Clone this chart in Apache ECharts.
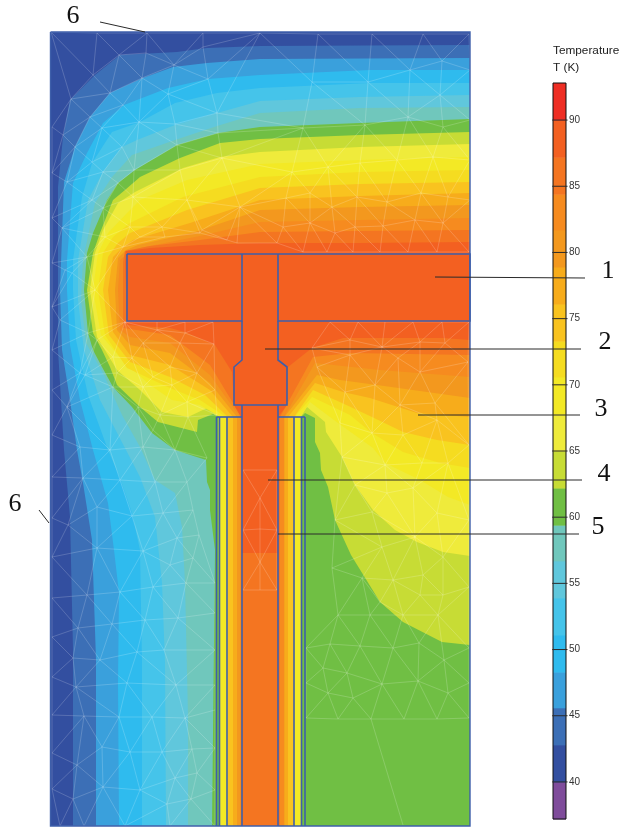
<!DOCTYPE html>
<html><head><meta charset="utf-8">
<style>html,body{margin:0;padding:0;background:#fff}#c{width:620px;height:827px}</style>
<script src="https://cdn.jsdelivr.net/npm/echarts@6/dist/echarts.min.js"></script>
</head><body><div id="c"></div>
<script>
// colour bar
const bandEdges=[37.2,40,42.8,45.6,48.3,51.1,53.9,56.7,59.4,62.2,65,67.8,70.6,73.3,76.1,78.9,81.7,84.4,87.2,90,92.8];
const bandColors=['#7F4C9B','#334FA0','#3C6FB6','#3AA0DC','#2FBBEE','#45C4EA','#60C7DC','#70C7BC','#70BF44','#C7DC35','#EFEB3B','#F3E925','#F5DC20','#F9C31F','#F7AC1B','#F3981E','#F68B1F','#F47521','#F36021','#EE2E24'];
const tickValues=[40,45,50,55,60,65,70,75,80,85,90];
// isotherms: region hotter than the level
const iso428=[[470,45],[260,46],[207,48],[177,52],[120,55],[95,75],[70,100],[63,137],[58,187],[58,290],[58,350],[64,450],[70,517],[73,650],[73,826],[470,826]];
const iso456=[[470,58],[260,59],[207,63],[173,67],[143,78],[110,93],[90,117],[75,147],[64,182],[60,290],[62,350],[70,400],[77,450],[83,483],[92,540],[96,660],[96,826],[470,826]];
const iso483=[[470,70],[370,70],[260,75],[208,79],[168,88],[124,105],[103,123],[87,153],[73,183],[67,260],[67,290],[70,345],[80,400],[93,450],[108,503],[114,550],[119,593],[118,683],[119,826],[470,826]];
const iso511=[[470,83],[370,83],[260,88],[217,93],[175,103],[140,122],[112,132],[92,163],[82,197],[73,260],[73,290],[76,340],[88,395],[108,450],[120,478],[132,513],[140,550],[142,663],[142,826],[470,826]];
const iso539=[[470,95],[360,97],[260,101],[217,113],[175,125],[137,140],[122,147],[103,172],[88,200],[78,260],[78,300],[84,350],[100,400],[126,450],[140,477],[155,517],[162,583],[165,663],[166,826],[470,826]];
const iso567=[[470,107],[360,108],[260,113],[217,126],[175,140],[132,155],[112,177],[95,203],[83,260],[81,300],[86,343],[103,373],[122,415],[140,447],[155,480],[175,493],[182,527],[185,583],[188,717],[188,826],[470,826]];
const iso594=[[470,119],[360,123],[260,127],[218,133],[177,145],[135,170],[118,183],[107,200],[93,233],[87,253],[84,290],[88,333],[93,350],[102,367],[113,387],[132,407],[152,433],[175,450],[206,460],[207,482],[210,490],[210,510],[215,550],[212,826],[470,826]];
const iso622=[[470,132],[360,135],[260,139],[220,143],[180,158],[140,177],[125,190],[113,200],[100,233],[93,253],[87,290],[93,333],[102,350],[110,367],[117,385],[140,407],[158,422],[197,432],[198,420],[213,414],[218,417],[219.5,826],[301,826],[301,417],[305,413],[315,418],[315,442],[320,453],[321,470],[328,487],[335,520],[351,555],[380,602],[403,622],[442,642],[470,645]];
const iso650=[[470,144],[360,147],[260,152],[220,157],[183,168],[135,192],[118,203],[103,230],[95,253],[90,290],[97,337],[117,370],[140,390],[162,412],[188,417],[207,408],[217,415],[220,417],[220,826],[300.5,826],[300.5,417],[307,407],[325,422],[326,432],[342,457],[355,485],[373,510],[395,530],[417,542],[443,552],[470,556]];
const iso678=[[470,157],[360,160],[260,164],[187,180],[140,200],[127,213],[108,233],[98,253],[93,290],[101,335],[122,360],[150,385],[172,400],[200,405],[220.5,417],[220.5,826],[300,826],[300,417],[310,402],[338,423],[373,448],[385,463],[420,480],[448,497],[470,505]];
const iso706=[[470,170],[360,172],[260,177],[183,197],[130,223],[113,237],[103,253],[98,290],[105,335],[127,368],[170,388],[200,400],[226,417],[227,826],[294.5,826],[294.5,417],[312,397],[350,415],[372,433],[403,452],[440,463],[470,468]];
const iso733=[[470,182],[360,184],[260,188],[187,210],[130,233],[118,243],[108,257],[103,290],[109,335],[130,362],[170,377],[205,395],[228,417],[228,826],[294,826],[294,417],[313,390],[342,403],[372,417],[403,432],[437,440],[470,445]];
const iso761=[[470,193],[360,196],[260,200],[190,223],[133,240],[122,248],[113,257],[108,290],[113,332],[130,355],[170,365],[210,390],[233,417],[233,826],[288,826],[288,417],[315,383],[343,392],[370,398],[417,413],[470,417]];
const iso789=[[470,205],[360,207],[260,210],[195,232],[138,245],[126,250],[118,258],[115,290],[117,330],[130,345],[170,353],[210,383],[237,417],[237,826],[284.5,826],[284.5,417],[317,375],[340,380],[377,385],[427,392],[470,398]];
const iso817=[[470,218],[360,220],[260,222],[200,236],[140,248],[128,253],[120,260],[118,290],[120,330],[130,337],[170,343],[210,375],[240,417],[240,826],[284,826],[284,417],[315,363],[380,370],[470,377]];
const iso844=[[470,230],[360,231],[260,232],[200,240],[150,246],[125,251],[123,262],[123,290],[123,328],[170,335],[210,365],[241.5,417],[241.5,826],[280,826],[280,417],[313,357],[350,353],[470,355]];
const iso872=[[470,242],[360,243],[260,243],[200,245],[150,248],[126,251],[125,262],[126,290],[126,325],[170,328],[185,332],[215,345],[232,372],[234,405],[241,417],[241.9,553],[278.1,553],[278.1,417],[287,405],[288,367],[312,348],[343,338],[443,338],[470,340]];
const isoLines=[iso428,iso456,iso483,iso511,iso539,iso567,iso594,iso622,iso650,iso678,iso706,iso733,iso761,iso789,iso817,iso844,iso872];
// structure outlines
const domainEdge=[[50.5,32],[470,32],[470,826],[50.5,826],[50.5,32]];
const tBlock=[[127,254],[470,254],[470,321],[278,321],[278,254],[242,254],[242,321],[127,321],[127,254]];
const stemCap=[[242,321],[242,360],[234,367],[234,405],[287,405],[287,367],[278,360],[278,321]];
const stemSides=[[[242,405],[242,826]],[[278,405],[278,826]]];
const strips=[[[216.5,417],[242,417]],[[216.5,417],[216.5,826]],[[219.5,417],[219.5,826]],[[227,417],[227,826]],[[278,417],[305,417]],[[294,417],[294,826]],[[301.5,417],[301.5,826]],[[305,417],[305,826]]];
// callouts
const leaders=[[435,277,585,278],[265,349,581,349],[418,415,580,415],[268,480,582,480],[278,534,579,534],[100,22,145,32],[39,510,49,523]];
const calloutLabels=[[608,271,'1'],[605,342,'2'],[601,409,'3'],[604,474,'4'],[598,527,'5'],[73,16,'6'],[15,504,'6']];
// mesh nodes
const meshNodes=[[51,32],[97,33],[147,33],[203,33],[260,33],[318,34],[372,34],[423,34],[469,34],[93,75],[119,55],[146,53],[174,65],[203,47],[142,78],[208,79],[71,99],[110,93],[168,94],[90,117],[123,105],[139,122],[175,124],[217,113],[52,127],[63,135],[102,128],[75,147],[122,147],[92,162],[134,170],[177,145],[218,133],[52,173],[67,182],[103,172],[118,183],[92,200],[133,197],[180,170],[222,158],[52,218],[62,228],[103,208],[130,227],[162,227],[202,230],[187,200],[240,207],[237,243],[87,257],[442,61],[410,70],[368,82],[312,82],[440,95],[408,117],[365,125],[303,128],[443,127],[433,157],[328,167],[397,160],[360,163],[292,172],[310,193],[357,197],[421,193],[448,197],[286,198],[332,207],[387,202],[283,227],[310,223],[355,227],[335,233],[383,226],[415,220],[443,223],[277,243],[303,252],[327,252],[353,252],[380,252],[408,252],[437,252],[469,252],[470,70],[470,120],[470,160],[470,200],[312,348],[330,322],[358,322],[385,322],[413,322],[442,322],[469,322],[350,340],[382,347],[420,342],[445,343],[398,358],[317,367],[420,372],[350,355],[468,362],[345,392],[375,385],[400,405],[435,403],[340,423],[372,433],[403,435],[437,420],[469,445],[385,465],[422,463],[448,463],[342,457],[355,485],[387,493],[413,488],[437,513],[372,512],[335,520],[382,547],[415,537],[443,557],[332,568],[362,578],[393,580],[423,575],[469,587],[420,595],[443,595],[380,602],[338,615],[403,615],[438,615],[370,615],[306,648],[330,644],[360,646],[393,648],[419,643],[444,660],[469,648],[323,668],[347,673],[382,684],[418,681],[448,693],[469,683],[306,683],[328,693],[353,698],[306,718],[338,719],[371,719],[404,719],[437,719],[469,718],[469,520],[52,477],[83,478],[120,480],[155,482],[187,482],[52,518],[97,507],[132,516],[163,513],[193,510],[68,525],[52,557],[97,548],[143,551],[177,538],[199,535],[170,565],[193,558],[52,598],[87,595],[120,592],[153,587],[186,583],[215,583],[78,628],[52,637],[112,624],[145,620],[178,618],[215,613],[73,658],[52,677],[100,660],[137,652],[164,650],[215,650],[76,687],[127,683],[176,685],[215,685],[52,715],[84,716],[119,717],[152,717],[185,718],[215,710],[52,753],[102,747],[77,765],[162,752],[130,752],[192,749],[215,748],[197,773],[175,778],[52,789],[73,799],[103,787],[140,790],[167,804],[191,799],[215,790],[60,826],[84,826],[125,826],[170,826],[215,826],[125,322],[157,322],[185,322],[213,322],[157,330],[185,333],[214,344],[180,343],[143,343],[132,358],[170,367],[153,377],[113,357],[97,340],[117,373],[143,387],[172,385],[197,373],[215,390],[187,402],[160,415],[138,407],[113,387],[153,430],[188,417],[175,450],[207,458],[217,415],[80,373],[67,407],[85,375],[80,447],[110,450],[143,447],[52,435],[52,390],[52,350],[52,307],[52,263],[65,270],[72,273],[95,290],[60,320],[88,333],[105,237],[123,247],[140,237],[165,237],[200,233],[227,240],[260,498],[260,529],[260,562],[260,590],[243,530],[277,530],[243,590],[277,590],[243,470],[277,470]];
const longMeshEdges=[[371,719,403,825]];

// Delaunay triangulation of the mesh nodes, used only to join them
function meshEdges(pts){
  const P=pts.concat([[-3000,-3000],[4000,-3000],[300,5000]]),n=pts.length;
  let tris=[[n,n+1,n+2]];
  const inC=(t,p)=>{const [a,b,c]=t.map(i=>P[i]);
    const ax=a[0]-p[0],ay=a[1]-p[1],bx=b[0]-p[0],by=b[1]-p[1],cx=c[0]-p[0],cy=c[1]-p[1];
    const d=(ax*ax+ay*ay)*(bx*cy-cx*by)-(bx*bx+by*by)*(ax*cy-cx*ay)+(cx*cx+cy*cy)*(ax*by-bx*ay);
    const o=(b[0]-a[0])*(c[1]-a[1])-(b[1]-a[1])*(c[0]-a[0]);return o>0?d>0:d<0;};
  for(let i=0;i<n;i++){
    const bad=[],good=[];tris.forEach(t=>(inC(t,P[i])?bad:good).push(t));
    const cnt={};bad.forEach(t=>[[t[0],t[1]],[t[1],t[2]],[t[2],t[0]]].forEach(e=>{const k=Math.min(...e)+'_'+Math.max(...e);cnt[k]=(cnt[k]||0)+1;}));
    tris=good;Object.keys(cnt).forEach(k=>{if(cnt[k]===1){const [a,b]=k.split('_').map(Number);tris.push([a,b,i]);}});
  }
  const seen={},out=[];
  tris.forEach(t=>{if(Math.max(...t)>=n)return;[[t[0],t[1]],[t[1],t[2]],[t[2],t[0]]].forEach(e=>{
    const k=Math.min(...e)+'_'+Math.max(...e);if(seen[k])return;seen[k]=1;
    const a=P[e[0]],b=P[e[1]],mx=(a[0]+b[0])/2,my=(a[1]+b[1])/2;
    if(Math.hypot(a[0]-b[0],a[1]-b[1])>95)return;
    if(mx>127&&mx<470&&my>254&&my<321)return;
    if(mx>216&&mx<305&&my>366)  { if(!(a[0]>=242&&a[0]<=278&&b[0]>=242&&b[0]<=278&&my>450))return; }
    if(mx>234&&mx<287&&my>321&&my<=405)return;
    if(Math.min(a[0],b[0])<216&&Math.max(a[0],b[0])>216&&Math.max(a[1],b[1])>417)return;
    if(Math.min(a[0],b[0])<305&&Math.max(a[0],b[0])>305&&Math.max(a[1],b[1])>417)return;
    if(Math.min(a[1],b[1])<254&&Math.max(a[1],b[1])>321)return;
    out.push([a[0],a[1],b[0],b[1]]);
  });});
  return out.concat(longMeshEdges);
}
const edges=meshEdges(meshNodes);

const outlines=[domainEdge,tBlock,stemCap,...stemSides,...strips];
const chart=echarts.init(document.getElementById('c'),null,{renderer:'canvas'});
function polyItem(api,pts,style){return {type:'polygon',shape:{points:pts.map(p=>api.coord(p))},style};}
chart.setOption({
  animation:false,backgroundColor:'#fff',
  grid:[{left:50,top:32,width:420,height:794},{left:553,top:83,width:13,height:736}],
  xAxis:[{type:'value',min:50,max:470,show:false,gridIndex:0},{type:'value',min:0,max:1,show:false,gridIndex:1}],
  yAxis:[{type:'value',min:32,max:826,inverse:true,show:false,gridIndex:0},
    {type:'value',min:37.2,max:92.8,gridIndex:1,position:'right',splitLine:{show:false},
     axisLine:{show:false},axisTick:{show:false},
     axisLabel:{show:true,margin:3,color:'#333',fontSize:10,fontFamily:'Liberation Sans',customValues:tickValues,formatter:v=>String(v)}}],
  series:[
    {type:'custom',name:'base',coordinateSystem:'cartesian2d',xAxisIndex:0,yAxisIndex:0,silent:true,
     data:[[50,32]],renderItem:(p,api)=>polyItem(api,[[50,32],[470,32],[470,826],[50,826]],{fill:bandColors[1]})},
    {type:'custom',name:'isotherms',coordinateSystem:'cartesian2d',xAxisIndex:0,yAxisIndex:0,silent:true,
     data:isoLines.map((l,i)=>[i,l[0][1]]),
     encode:{x:0,y:1},
     renderItem:(p,api)=>{const i=api.value(0);return polyItem(api,isoLines[i],{fill:bandColors[i+2]});}},
    {type:'custom',name:'mesh',coordinateSystem:'cartesian2d',xAxisIndex:0,yAxisIndex:0,silent:true,
     data:edges,encode:{x:[0,2],y:[1,3]},
     renderItem:(p,api)=>{const a=api.coord([api.value(0),api.value(1)]),b=api.coord([api.value(2),api.value(3)]);
       return {type:'line',shape:{x1:a[0],y1:a[1],x2:b[0],y2:b[1]},style:{stroke:'rgba(255,255,255,0.3)',lineWidth:0.6,fill:null}};}},
    {type:'custom',name:'structure',coordinateSystem:'cartesian2d',xAxisIndex:0,yAxisIndex:0,silent:true,clip:false,
     data:outlines.map((o,i)=>[i,o[0][1]]),encode:{x:0,y:1},
     renderItem:(p,api)=>{const o=outlines[api.value(0)];
       return {type:'polyline',shape:{points:o.map(q=>api.coord(q))},style:{stroke:'#3E5FAA',lineWidth:api.value(0)===0?1.4:1.6,fill:null}};}},
    {type:'custom',name:'colourbar',coordinateSystem:'cartesian2d',xAxisIndex:1,yAxisIndex:1,silent:true,
     data:bandColors.map((c,i)=>[i,bandEdges[i],bandEdges[i+1]]),encode:{y:[1,2]},z:1,
     renderItem:(p,api)=>{const a=api.coord([0,api.value(2)]),b=api.coord([1,api.value(1)]);
       return {type:'rect',shape:{x:a[0],y:a[1],width:b[0]-a[0],height:b[1]-a[1]+0.5},style:{fill:bandColors[api.value(0)]}};}},
    {type:'custom',name:'colourbarTicks',coordinateSystem:'cartesian2d',xAxisIndex:1,yAxisIndex:1,silent:true,clip:false,
     data:tickValues.map(v=>[0,v]),encode:{y:1},z:4,
     renderItem:(p,api)=>{const a=api.coord([-0.06,api.value(1)]),b=api.coord([1.12,api.value(1)]);
       return {type:'line',shape:{x1:a[0],y1:a[1],x2:b[0],y2:b[1]},style:{stroke:'#2b2b2b',lineWidth:1,fill:null}};}},
    {type:'custom',name:'colourbarFrame',coordinateSystem:'cartesian2d',xAxisIndex:1,yAxisIndex:1,silent:true,clip:false,
     data:[[0,37.2,92.8]],encode:{y:[1,2]},z:3,
     renderItem:(p,api)=>{const a=api.coord([0,api.value(2)]),b=api.coord([1,api.value(1)]);
       return {type:'rect',shape:{x:a[0],y:a[1],width:b[0]-a[0],height:b[1]-a[1]},style:{fill:null,stroke:'#111',lineWidth:1}};}},
    {type:'custom',name:'leaders',coordinateSystem:'cartesian2d',xAxisIndex:0,yAxisIndex:0,silent:true,clip:false,z:5,
     data:leaders,encode:{x:[0,2],y:[1,3]},
     renderItem:(p,api)=>{const a=api.coord([api.value(0),api.value(1)]),b=api.coord([api.value(2),api.value(3)]);
       return {type:'line',shape:{x1:a[0],y1:a[1],x2:b[0],y2:b[1]},style:{stroke:'#2a2a2a',lineWidth:1,fill:null}};}},
    {type:'custom',name:'labels',coordinateSystem:'cartesian2d',xAxisIndex:0,yAxisIndex:0,silent:true,clip:false,z:6,
     data:calloutLabels,encode:{x:0,y:1},
     renderItem:(p,api)=>{const i=p.dataIndex,l=calloutLabels[i],a=api.coord([l[0],l[1]]);
       return {type:'text',style:{x:a[0],y:a[1],text:l[2],fill:'#111',font:'26px "Liberation Serif"',align:'center',verticalAlign:'middle'}};}}
  ],
  graphic:[{type:'text',left:553,top:45,silent:true,style:{text:'Temperature',fill:'#222',font:'11.8px "Liberation Sans"'}},
           {type:'text',left:553,top:62,silent:true,style:{text:'T (K)',fill:'#222',font:'11.8px "Liberation Sans"'}}]
});
</script></body></html>
